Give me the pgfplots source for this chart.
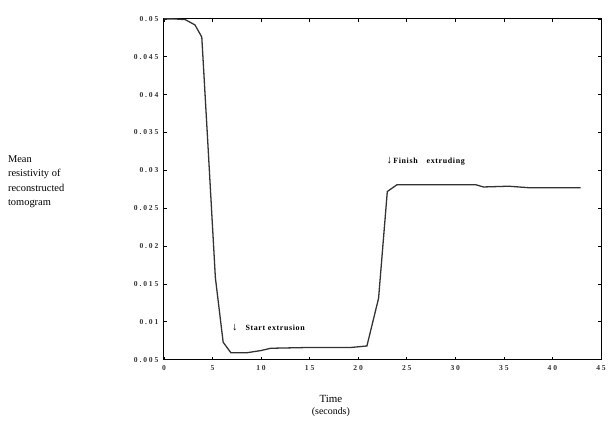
\documentclass[border=0pt]{standalone}
\usepackage{fontspec}
\setmainfont{Liberation Serif}
\usepackage{pgfplots}
\pgfplotsset{compat=1.18}
\begin{document}
\begin{tikzpicture}
\begin{axis}[
  scale only axis, width=440pt, height=343pt,
  xmin=0, xmax=45, ymin=0.005, ymax=0.05,
  scaled y ticks=false,
  xtick={0,5,...,45}, ytick={0.005,0.01,0.015,0.02,0.025,0.03,0.035,0.04,0.045,0.05},
  xticklabels={0,5,10,15,20,25,30,35,40,45},
  yticklabels={0.005,0.01,0.015,0.02,0.025,0.03,0.035,0.04,0.045,0.05},
  tick style={black, line width=0.7pt},
  major tick length=3pt,
  tick align=inside,
  axis line style={line width=1pt},
  ticklabel style={font=\fontsize{7.6}{8}\selectfont\bfseries\addfontfeature{LetterSpace=25}, text=black!80},
  xticklabel style={yshift=-2pt},
  yticklabel style={xshift=-2pt},
  clip=false,
]
\addplot[line width=1.3pt, color=black!80] coordinates {
(0,0.05) (1,0.05) (2.2,0.0499) (3.2,0.0492) (3.9,0.0476) (4.5,0.0341) (5.3,0.0158) (6.1,0.0073) (6.9,0.0059) (8.5,0.0059) (10,0.0062) (11,0.0065) (14.8,0.0066) (19.2,0.0066) (20.9,0.0068) (22.1,0.0131) (23,0.0272) (24,0.0281) (32.1,0.0281) (32.9,0.0278) (35.5,0.0279) (37.6,0.0277) (42.9,0.0277)
};
\node[anchor=west, font=\fontsize{8}{9}\selectfont\bfseries\addfontfeature{LetterSpace=8}, inner sep=0pt] at (axis cs:7.0,0.0092) {{\fontsize{11}{11}\selectfont ↓}\hspace{8pt}Start extrusion};
\node[anchor=west, font=\fontsize{8}{9}\selectfont\bfseries\addfontfeature{LetterSpace=8}, inner sep=0pt] at (axis cs:22.9,0.0312) {{\fontsize{11}{11}\selectfont ↓}\,Finish\hspace{9pt}extruding};
\node[anchor=north west, align=left, font=\fontsize{10.5}{14.5}\selectfont, inner sep=0pt] at (axis description cs:-0.357,0.6) {Mean\\resistivity of\\reconstructed\\tomogram};
\node[anchor=north, align=center, font=\fontsize{11}{14}\selectfont, inner sep=0pt] at (axis description cs:0.382,-0.105) {Time\\[-2pt]{\fontsize{10}{12}\selectfont (seconds)}};
\coordinate (bl) at (axis description cs:-0.375,-0.1924);
\coordinate (tr) at (axis description cs:1.016,1.0554);
\end{axis}
\pgfresetboundingbox
\path (bl) rectangle (tr);
\end{tikzpicture}
\end{document}
